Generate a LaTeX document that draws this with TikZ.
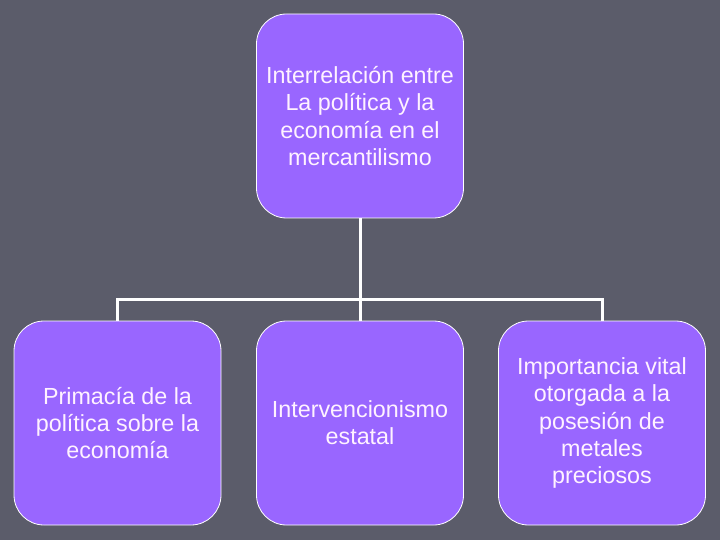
\documentclass[tikz,border=0pt]{standalone}
\usepackage{fontspec}
\setmainfont{Liberation Sans}
\definecolor{bg}{HTML}{5B5C6A}
\definecolor{boxfill}{HTML}{9966FF}
\definecolor{txt}{HTML}{FFF2FF}
\begin{document}
\begin{tikzpicture}[x=1pt,y=-1pt,
  box/.style={draw=white, line width=0.8pt, fill=boxfill, rounded corners=30pt,
    minimum width=207pt, minimum height=204pt, align=center, text=txt,
    font=\fontsize{23.3}{27.3}\selectfont, inner sep=0pt},
  link/.style={draw=white, line width=3pt}]
\fill[bg] (0,0) rectangle (720,540);
\useasboundingbox (0,0) rectangle (720,540);
\node[box] (top) at (360,116) {Interrelación entre\\La política y la\\economía en el\\mercantilismo};
\node[box] (left) at (117.5,423) {Primacía de la\\política sobre la\\economía};
\node[box] (mid) at (360,423) {Intervencionismo\\estatal};
\node[box] (right) at (602,423) {Importancia vital\\otorgada a la\\posesión de\\metales\\preciosos};
\coordinate (j) at (360,299);
\draw[link] (top.south) -- (j);
\draw[link] (j) -| (left.north);
\draw[link] (j) -| (right.north);
\draw[link] (j) -- (mid.north);
\end{tikzpicture}
\end{document}
